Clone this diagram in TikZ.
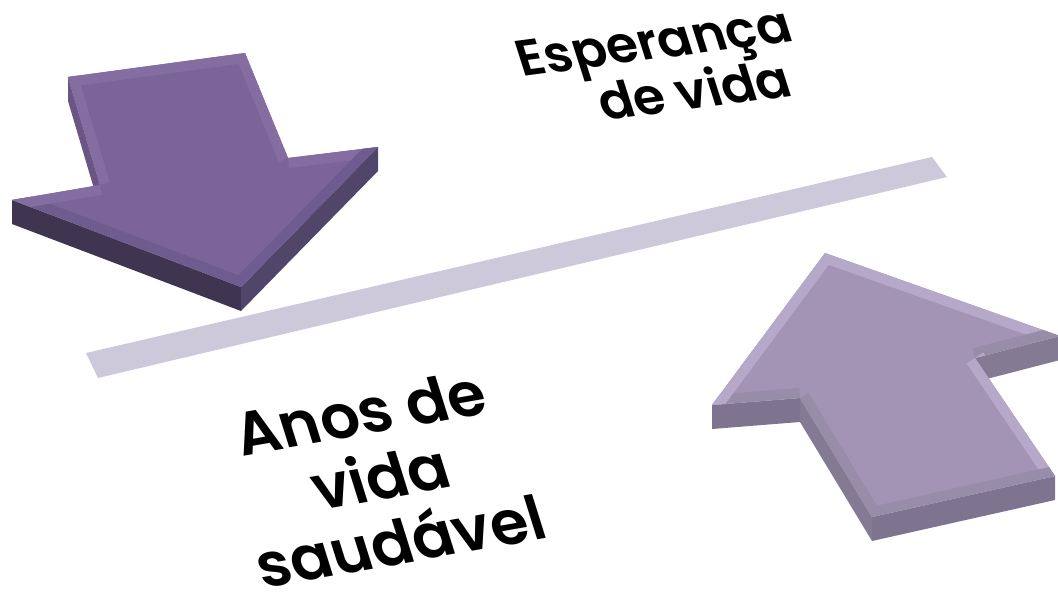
\documentclass[tikz,border=0pt]{standalone}
\usepackage{fontspec}
\setmainfont{Poppins}[BoldFont={Poppins SemiBold}]
\usetikzlibrary{calc}

% colours of the two arrows and of the band
\definecolor{bandgray}{HTML}{CDC9DB}
\definecolor{dntop}{HTML}{7B6498}
\definecolor{dnrim}{HTML}{846DA1}
\definecolor{dnrimlow}{HTML}{6F5C8F}
\definecolor{dnsidea}{HTML}{3F3551}
\definecolor{dnsideb}{HTML}{52456A}
\definecolor{dnsidec}{HTML}{6A5685}
\definecolor{uptop}{HTML}{A393B5}
\definecolor{uprim}{HTML}{B6A8C9}
\definecolor{uprimlow}{HTML}{988DA8}
\definecolor{upsidea}{HTML}{857A93}
\definecolor{upsideb}{HTML}{7E7490}

\tikzset{
  big text/.style={font=\bfseries\fontsize{17.5}{19}\selectfont, align=center, inner sep=0pt},
  small text/.style={font=\bfseries\fontsize{14.5}{15.5}\selectfont, align=right, inner sep=0pt},
  rim/.style={line width=0.2cm},
}

\begin{document}
\begin{tikzpicture}[x=0.01cm,y=-0.01cm]
    \useasboundingbox (0,0) rectangle (1058,603);

    % The band between the arrows
    \fill [bandgray] (86,353) -- (932,157) -- (947,177) -- (98,378) -- cycle;

    % Arrow pointing down (left)
    \coordinate (A) at (68,77);
    \coordinate (B) at (245,53);
    \coordinate (C) at (288,158);
    \coordinate (D) at (378,147);
    \coordinate (E) at (241,287);
    \coordinate (F) at (12,200);
    \coordinate (G) at (100,185);
    % side faces, shifted down by the thickness
    \foreach \a/\b/\c in {F/E/dnsidea, E/D/dnsideb, G/A/dnsidec}{%
        \fill [\c] (\a) -- (\b) -- ($(\b)+(0,24)$) -- ($(\a)+(0,24)$) -- cycle;
    }
    % top face with its bevel
    \fill [dntop] (A) -- (B) -- (C) -- (D) -- (E) -- (F) -- (G) -- cycle;
    \begin{scope}
        \clip (A) -- (B) -- (C) -- (D) -- (E) -- (F) -- (G) -- cycle;
        \foreach \a/\b/\c in {A/B/dnrim, B/C/dnrim, C/D/dnrim, D/E/dnrimlow, E/F/dnrimlow, F/G/dnrim, G/A/dnrim}{%
            \draw [rim, \c] (\a) -- (\b);
        }
    \end{scope}

    % Arrow pointing up (right)
    \coordinate (P1) at (825,253);
    \coordinate (P2) at (1060,336);
    \coordinate (P3) at (975,358);
    \coordinate (P4) at (1055,476);
    \coordinate (P5) at (872,517);
    \coordinate (P6) at (800,398);
    \coordinate (P7) at (712,405);
    % side faces
    \foreach \a/\b/\c in {P2/P3/upsidea, P4/P5/upsideb, P5/P6/upsidea, P6/P7/upsideb}{%
        \fill [\c] (\a) -- (\b) -- ($(\b)+(0,24)$) -- ($(\a)+(0,24)$) -- cycle;
    }
    % top face with its bevel
    \fill [uptop] (P1) -- (P2) -- (P3) -- (P4) -- (P5) -- (P6) -- (P7) -- cycle;
    \begin{scope}
        \clip (P1) -- (P2) -- (P3) -- (P4) -- (P5) -- (P6) -- (P7) -- cycle;
        \foreach \a/\b/\c in {P1/P2/uprim, P2/P3/uprimlow, P3/P4/uprim, P4/P5/uprimlow, P5/P6/uprimlow, P6/P7/uprimlow, P7/P1/uprim}{%
            \draw [rim, \c] (\a) -- (\b);
        }
    \end{scope}

    % Texts, turned and slanted as if lying on the plane
    \node [small text, rotate=7.5, xslant=-0.18] (esperanca) at (662,68) {Esperança\\de vida\hspace*{5pt}};
    \node [big text, rotate=10, xslant=-0.13] (anos) at (380,477) {Anos de\\vida\\saudável};
\end{tikzpicture}
\end{document}
